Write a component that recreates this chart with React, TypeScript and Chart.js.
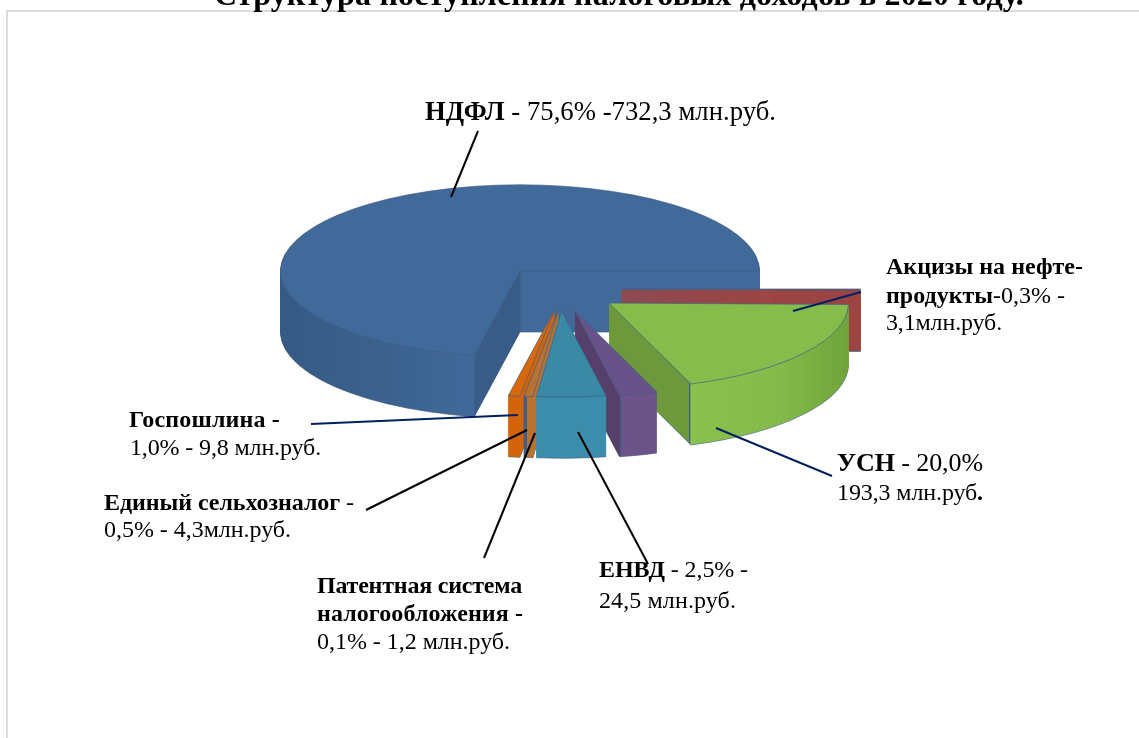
import React, { useEffect, useRef } from "react";
import { Chart, registerables } from "chart.js";

Chart.register(...registerables);

const FONT = '"Liberation Serif", "Times New Roman", serif';

// Categories in clockwise order, starting from the large slice.
const categories = ["НДФЛ", "Акцизы на нефтепродукты", "УСН", "Патентная система налогообложения", "ЕНВД", "Единый сельхозналог", "Госпошлина"];
// Slice shares as they appear in the picture (percent of the circle, perspective included).
const drawnShares = [71.94, 0.28, 19.17, 2.58, 4.64, 0.61, 0.78];
const topColors = ["#41699a", "#9c4442", "#85bc4b", "#68528a", "#3a89a5", "#b87233", "#d8680a"];
const chartTitle = "Структура поступления налоговых доходов в 2020 году.";

// Layout of the exploded 3D look.
const CENTER = { x: 520, y: 271 };
const RADIUS = 239.5;
const TILT = 0.36;
const DEPTH = 61;
const LINE = "#3f5f86";
const explode: [number, number][] = [[0, 0], [101, 18], [89, 32], [55, 40], [41.5, 40], [38, 40], [34, 40]];
const drawOrder = [0, 1, 2, 3, 6, 5, 4];
// Side-wall colour ramps: [screen x, colour]; a hard step marks a corner.
const wallStops: [number, string][][] = [
  [[279, "#365a84"], [400, "#3c628f"], [474, "#41699a"], [474.5, LINE], [476, "#395b87"], [519.5, "#395b87"], [520, LINE], [521, "#41699a"], [760, "#41699a"]],
  [[620, "#9c4442"], [862, "#9c4442"]],
  [[609, "#6d983c"], [689, "#6d983c"], [689.5, LINE], [691, "#8ac14d"], [780, "#84ba4a"], [849, "#70a33a"]],
  [[575, "#553f6b"], [620, "#553f6b"], [620.5, LINE], [622, "#6c5489"], [657, "#6c5489"]],
  [[530, "#3c8dab"], [610, "#3c8dab"]],
  [[500, "#3f5f86"], [527, "#3f5f86"], [527.5, "#b87233"], [552, "#b87233"]],
  [[500, "#d46409"], [552, "#d46409"]],
];

type Seg = { t: string; b?: boolean };
type Lbl = { x: number; y: number; size: number; end: number; segs: Seg[] };
const labels: Lbl[] = [
  { x: 425, y: 120, size: 26.67, end: 776, segs: [{ t: "НДФЛ", b: true }, { t: " - 75,6% -732,3 млн.руб." }] },
  { x: 886, y: 274, size: 24, end: 1083, segs: [{ t: "Акцизы на нефте-", b: true }] },
  { x: 886, y: 303, size: 24, end: 1065, segs: [{ t: "продукты", b: true }, { t: "-0,3% -" }] },
  { x: 886, y: 330, size: 24, end: 1002, segs: [{ t: "3,1млн.руб." }] },
  { x: 837, y: 471, size: 26, end: 983, segs: [{ t: "УСН", b: true }, { t: " - 20,0%" }] },
  { x: 837, y: 500, size: 24, end: 983, segs: [{ t: "193,3 млн.руб" }, { t: ".", b: true }] },
  { x: 129, y: 427, size: 24, end: 280, segs: [{ t: "Госпошлина -", b: true }] },
  { x: 130, y: 455, size: 24, end: 321, segs: [{ t: "1,0% - 9,8 млн.руб." }] },
  { x: 104, y: 510, size: 24, end: 354, segs: [{ t: "Единый сельхозналог", b: true }, { t: " -" }] },
  { x: 104, y: 537, size: 24, end: 291, segs: [{ t: "0,5% - 4,3млн.руб." }] },
  { x: 317, y: 593, size: 24, end: 522, segs: [{ t: "Патентная система", b: true }] },
  { x: 317, y: 621, size: 24, end: 523, segs: [{ t: "налогообложения -", b: true }] },
  { x: 317, y: 649, size: 24, end: 510, segs: [{ t: "0,1% - 1,2 млн.руб." }] },
  { x: 599, y: 577, size: 24, end: 748, segs: [{ t: "ЕНВД", b: true }, { t: " - 2,5% -" }] },
  { x: 599, y: 608, size: 24, end: 736, segs: [{ t: "24,5 млн.руб." }] },
  { x: 214, y: 5, size: 32, end: 1024, segs: [{ t: chartTitle, b: true }] },
];
const leaders: [number, number, number, number, string][] = [
  [478, 131, 451, 197, "#000000"],
  [861, 292, 793, 311, "#002060"],
  [832, 476, 716, 428, "#002060"],
  [648, 564, 578, 432, "#000000"],
  [484, 558, 535, 433, "#000000"],
  [366, 510, 527, 430, "#000000"],
  [311, 424, 518, 415, "#002060"],
];

const pie3d = {
  id: "pie3d",
  beforeDatasetsDraw(chart: any) {
    const ctx = chart.ctx as CanvasRenderingContext2D;
    const arcs = chart.getDatasetMeta(0).data;
    for (const i of drawOrder) {
      const arc = arcs[i];
      const [dx, dy] = explode[i];
      const base = arc.options;
      const ox = CENTER.x + dx - arc.x;
      const stops = wallStops[i];
      const x0 = stops[0][0];
      const x1 = stops[stops.length - 1][0];
      const grad = ctx.createLinearGradient(x0 - ox, 0, x1 - ox, 0);
      stops.forEach(([x, c]) => grad.addColorStop((x - x0) / (x1 - x0), c));
      const place = (d: number) => {
        ctx.translate(CENTER.x + dx, CENTER.y + dy + d);
        ctx.scale(1, TILT);
        ctx.translate(-arc.x, -arc.y);
      };
      for (let d = DEPTH; d >= 1; d--) {
        ctx.save();
        place(d);
        arc.options = d === DEPTH
          ? { ...base, backgroundColor: grad, borderColor: LINE, borderWidth: 1 }
          : { ...base, backgroundColor: grad, borderColor: grad, borderWidth: 1 };
        arc.draw(ctx);
        ctx.restore();
      }
      arc.options = base;
      ctx.save();
      place(0);
      arc.draw(ctx);
      ctx.restore();
    }
    return false;
  },
  afterDraw(chart: any) {
    const ctx = chart.ctx as CanvasRenderingContext2D;
    ctx.save();
    ctx.strokeStyle = "#dcdcdc";
    ctx.lineWidth = 2;
    ctx.beginPath();
    ctx.moveTo(7, 738);
    ctx.lineTo(7, 11);
    ctx.lineTo(1139, 11);
    ctx.stroke();

    ctx.lineWidth = 2;
    for (const [a, b, c, d, col] of leaders) {
      ctx.strokeStyle = col;
      ctx.beginPath();
      ctx.moveTo(a, b);
      ctx.lineTo(c, d);
      ctx.stroke();
    }
    ctx.fillStyle = "#000";
    ctx.textBaseline = "alphabetic";
    ctx.textAlign = "left";
    const c2 = ctx as any;
    for (const l of labels) {
      c2.letterSpacing = "0px";
      let natural = 0;
      let n = 0;
      for (const s of l.segs) {
        ctx.font = `${s.b ? "bold " : ""}${l.size}px ${FONT}`;
        natural += ctx.measureText(s.t).width;
        n += s.t.length;
      }
      const sp = (l.end - l.x - natural) / n;
      c2.letterSpacing = `${sp}px`;
      let x = l.x;
      for (const s of l.segs) {
        ctx.font = `${s.b ? "bold " : ""}${l.size}px ${FONT}`;
        ctx.fillText(s.t, x, l.y);
        x += ctx.measureText(s.t).width;
      }
    }
    c2.letterSpacing = "0px";
    ctx.restore();
  },
};

export default function App() {
  const ref = useRef<HTMLCanvasElement>(null);
  useEffect(() => {
    const chart = new Chart(ref.current!, {
      type: "pie",
      data: {
        labels: categories,
        datasets: [{
          data: drawnShares,
          backgroundColor: topColors,
          borderColor: LINE,
          borderWidth: 1,
          radius: RADIUS,
          clip: false,
        } as any],
      },
      options: {
        animation: false,
        responsive: false,
        rotation: 191,
        layout: { padding: 0 },
        plugins: { legend: { display: false }, tooltip: { enabled: false } },
      } as any,
      plugins: [pie3d as any],
    });
    return () => chart.destroy();
  }, []);
  return (
    <canvas
      ref={ref}
      width={1139}
      height={738}
      style={{ position: "fixed", left: 0, top: 0, width: 1139, height: 738, background: "#fff" }}
    />
  );
}
